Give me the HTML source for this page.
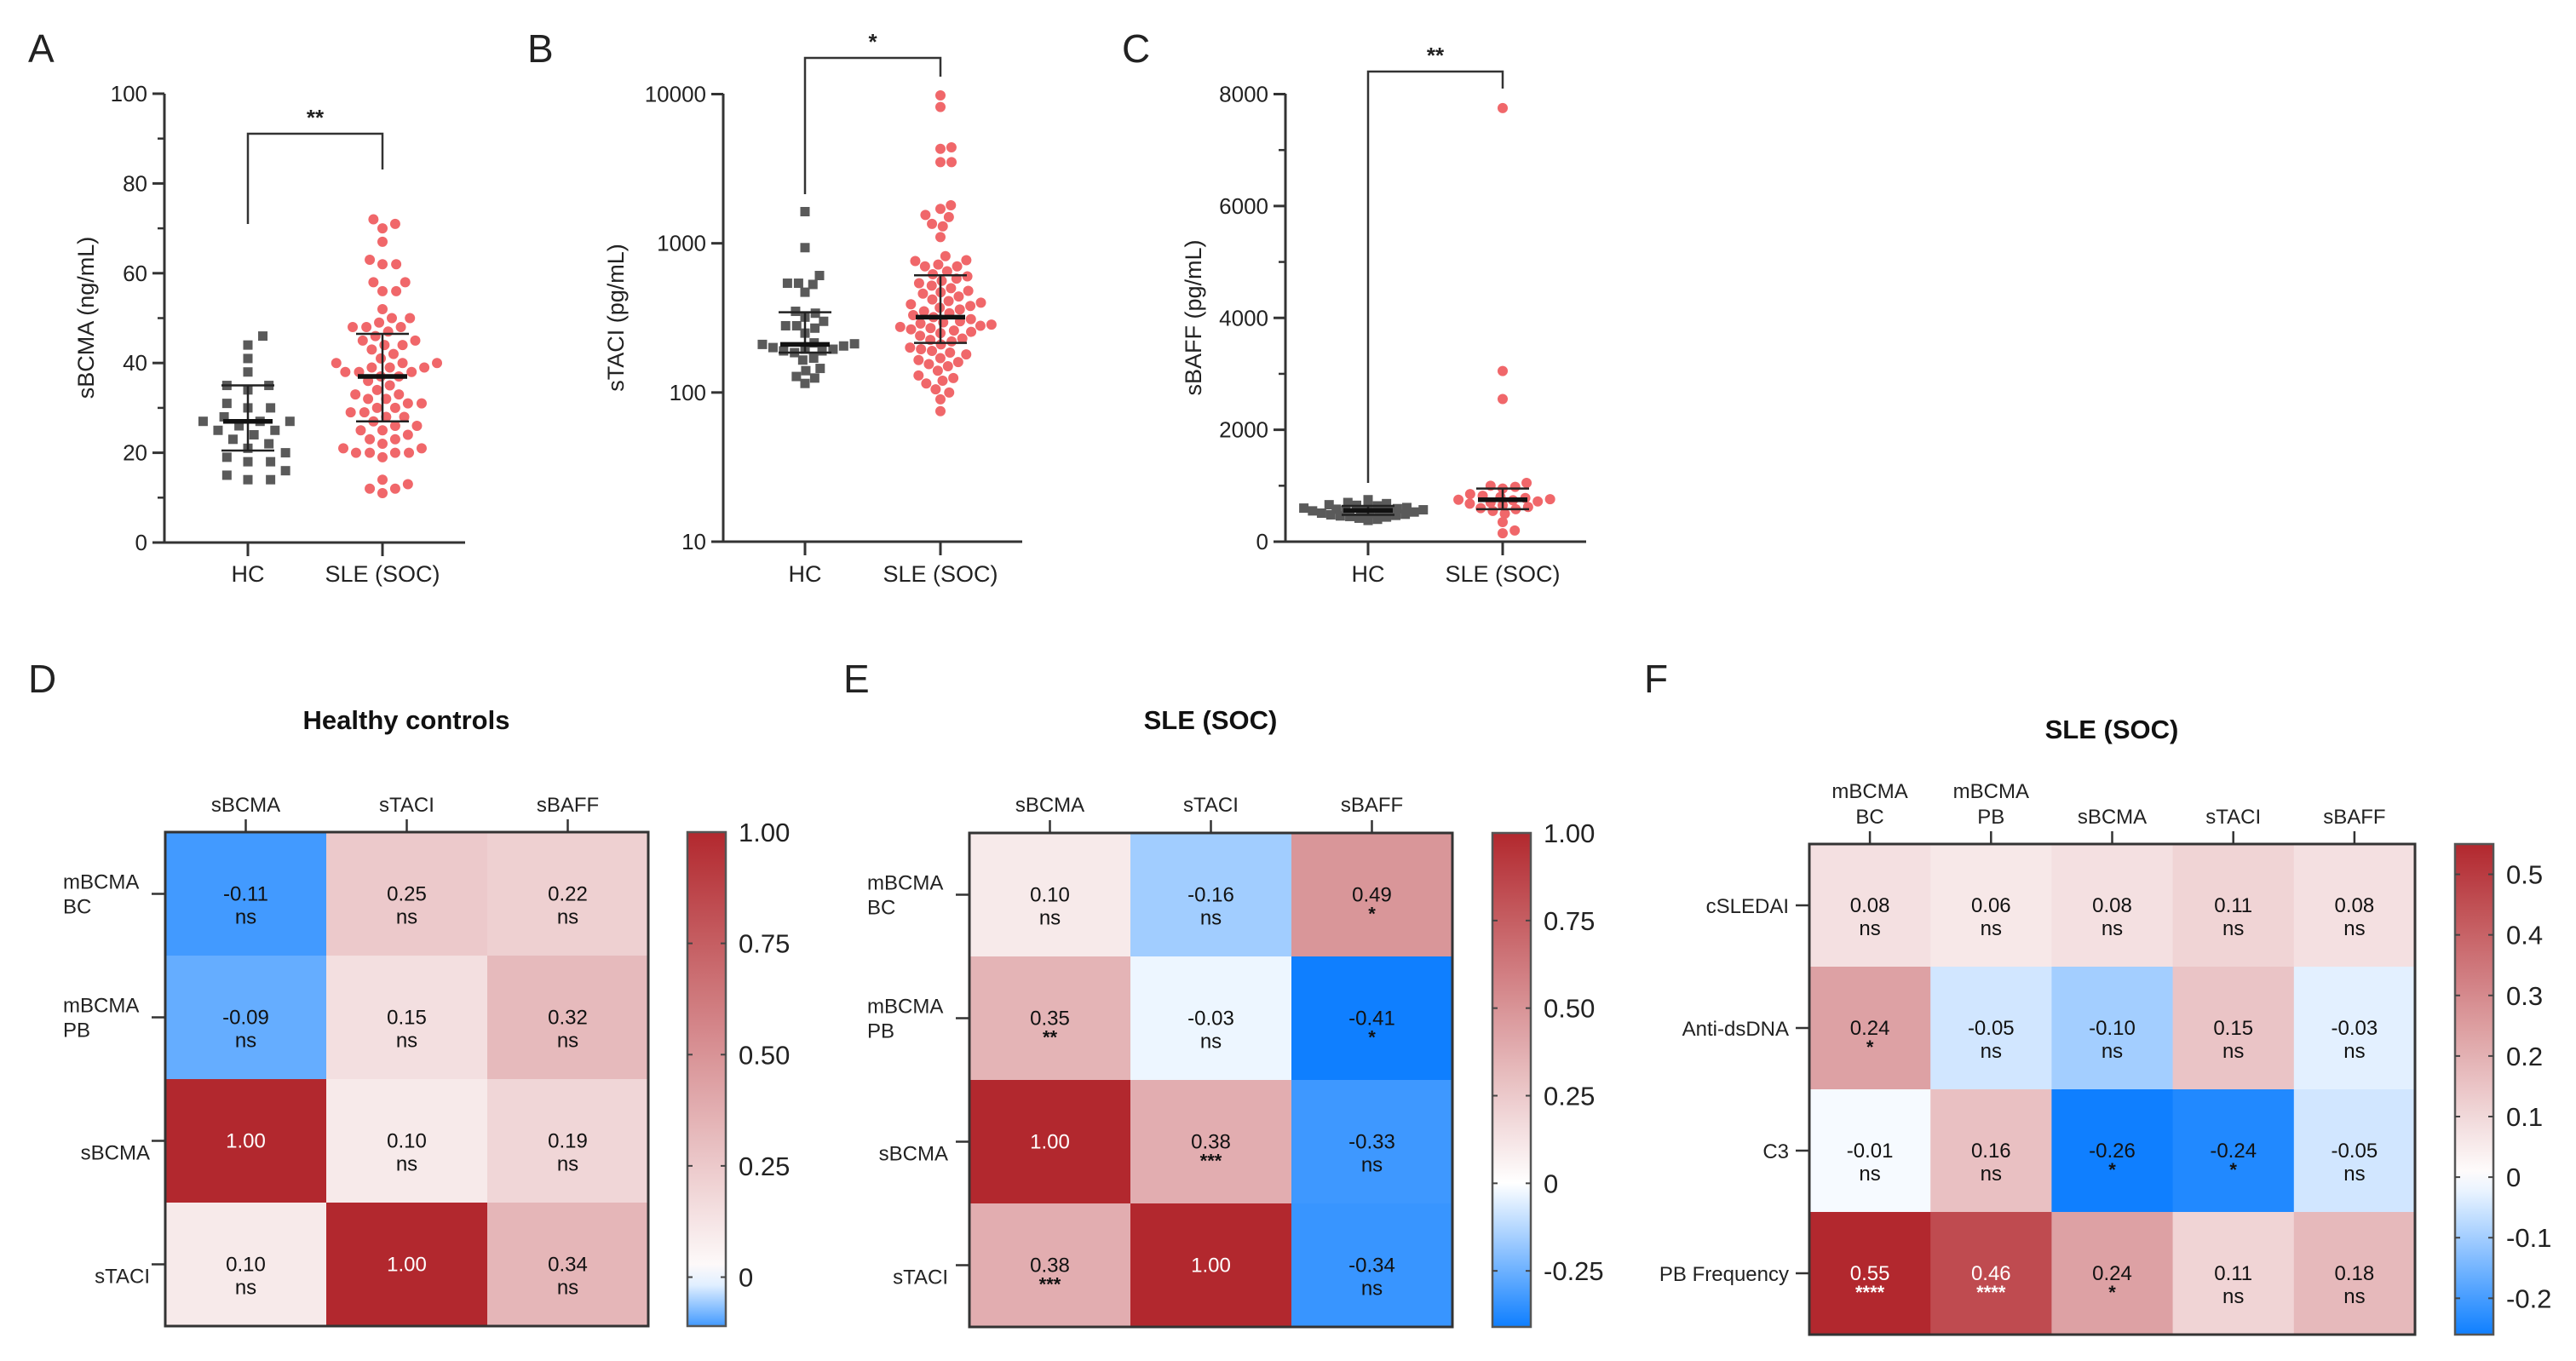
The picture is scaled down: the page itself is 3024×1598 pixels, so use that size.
<!DOCTYPE html>
<html><head><meta charset="utf-8"><title>Soluble BCMA, TACI and BAFF levels and correlations in healthy controls and SLE (SOC)</title>
<style>
html,body{margin:0;padding:0;background:#fff;}
svg{display:block;font-family:"Liberation Sans",Arial,sans-serif;}
</style></head>
<body>
<svg id="fig" width="3024" height="1598" viewBox="0 0 3024 1598" xmlns="http://www.w3.org/2000/svg">
<rect x="0" y="0" width="3024" height="1598" fill="#fff"/>
<defs id="defs"></defs>
</svg>
<script>
// ---------- Scatter data ----------
const aHC=[46,44,41,38,35,35,34,31,30,30,28,27,27,27,26,25,25,24,23,22,21,20,19,18,18,16,15,14,14];
const aSLE=[72,71,70,67,63,62,62,58,58,56,56,52,50,50,49,48,48,48,47,46,45,45,44,44,43,42,41,40,40,40,39,39,39,38,38,38,37,37,36,35,34,33,33,32,32,31,31,30,30,29,29,28,28,27,26,26,25,25,24,23,23,22,21,21,20,20,20,20,19,14,13,12,12,11];
const aStats=[[27,20.5,35],[37,27,46.5]];
const aTicks=[0,20,40,60,80,100];
const bHC=[1630,935,608,540,540,530,470,350,340,320,300,280,280,270,250,215,212,210,205,200,195,195,190,190,185,170,165,145,140,128,125,115];
const bSLE=[9800,8200,4400,4300,3500,3500,1800,1700,1550,1500,1350,1300,1100,820,770,760,720,700,700,650,620,600,580,560,540,520,500,480,470,460,440,420,410,400,390,380,370,360,350,340,330,320,310,300,295,290,285,280,275,270,265,260,255,250,240,230,225,220,210,200,195,190,185,180,170,165,160,155,150,140,130,125,120,115,105,100,90,75];
const bStats=[[210,185,345],[320,215,610]];
const bTicks=[10,100,1000,10000];
const cHC=[750,700,680,660,650,640,620,610,600,590,580,570,560,560,550,540,530,520,510,500,490,480,470,460,450,440,420,400,380];
const cSLE=[7750,3050,2550,1050,1000,980,950,850,820,800,780,760,750,740,720,700,680,650,620,600,580,550,500,350,200,150];
const cStats=[[560,480,640],[750,580,950]];
const cTicks=[0,2000,4000,6000,8000];
const groups=["HC","SLE (SOC)"];

// ---------- Heatmap data ----------
const dRows=[["mBCMA","BC"],["mBCMA","PB"],["sBCMA"],["sTACI"]];
const dCols=[["sBCMA"],["sTACI"],["sBAFF"]];
const dVals=[[-0.11,0.25,0.22],[-0.09,0.15,0.32],[1.00,0.10,0.19],[0.10,1.00,0.34]];
const dSig=[["ns","ns","ns"],["ns","ns","ns"],["","ns","ns"],["ns","","ns"]];
const dCbTicks=[1,0.75,0.5,0.25,0];
const dCbLabels=["1.00","0.75","0.50","0.25","0"];
const eRows=[["mBCMA","BC"],["mBCMA","PB"],["sBCMA"],["sTACI"]];
const eCols=[["sBCMA"],["sTACI"],["sBAFF"]];
const eVals=[[0.10,-0.16,0.49],[0.35,-0.03,-0.41],[1.00,0.38,-0.33],[0.38,1.00,-0.34]];
const eSig=[["ns","ns","*"],["**","ns","*"],["","***","ns"],["***","","ns"]];
const eCbTicks=[1,0.75,0.5,0.25,0,-0.25];
const eCbLabels=["1.00","0.75","0.50","0.25","0","-0.25"];
const fRows=[["cSLEDAI"],["Anti-dsDNA"],["C3"],["PB Frequency"]];
const fCols=[["mBCMA","BC"],["mBCMA","PB"],["sBCMA"],["sTACI"],["sBAFF"]];
const fVals=[[0.08,0.06,0.08,0.11,0.08],[0.24,-0.05,-0.10,0.15,-0.03],[-0.01,0.16,-0.26,-0.24,-0.05],[0.55,0.46,0.24,0.11,0.18]];
const fSig=[["ns","ns","ns","ns","ns"],["*","ns","ns","ns","ns"],["ns","ns","*","*","ns"],["****","****","*","ns","ns"]];
const fCbTicks=[0.5,0.4,0.3,0.2,0.1,0,-0.1,-0.2];
const fCbLabels=["0.5","0.4","0.3","0.2","0.1","0","-0.1","-0.2"];

const NS="http://www.w3.org/2000/svg";
const svg=document.getElementById('fig');
function mk(tag,attrs,parent,text){const e=document.createElementNS(NS,tag);for(const k in attrs)e.setAttribute(k,attrs[k]);if(text!==undefined)e.textContent=text;(parent||svg).appendChild(e);return e;}
function line(g,x1,y1,x2,y2,w,c){return mk('line',{x1,y1,x2,y2,stroke:c||'#333','stroke-width':w||3},g);}

function swarm(ys,d){
  const order=ys.map((y,i)=>i).sort((a,b)=>ys[b]-ys[a]);
  const placed=[];const xs=new Array(ys.length);
  order.forEach(i=>{
    const y=ys[i];const cands=[0];
    placed.forEach(p=>{const dy=Math.abs(p.y-y);if(dy<d){const dx=Math.sqrt(d*d-dy*dy);cands.push(p.x+dx+0.01,p.x-dx-0.01);}});
    cands.sort((a,b)=>Math.abs(a)-Math.abs(b));
    let best=0;
    for(const c of cands){let ok=true;for(const p of placed){if((p.x-c)*(p.x-c)+(p.y-y)*(p.y-y)<d*d-0.5){ok=false;break;}}if(ok){best=c;break;}}
    placed.push({x:best,y});xs[i]=best;
  });
  return xs;
}

function scatterPanel(o){
  const g=mk('g',{},svg);
  
  
  const lt=mk('text',{x:o.letterX,y:73,'font-size':46,fill:'#222'},g,o.letter);
  
  
  const ys=o.scale;
  const ax=line(g,o.ax,110,o.ax,o.y0+1.5,3);
  
  
  const xa=line(g,o.ax-14,o.y0,o.xEnd,o.y0,3);
  
  
  o.ticks.forEach((t,i)=>{
    const y=ys(t);
    line(g,o.ax-14,y,o.ax,y,3);
    const tl=mk('text',{x:o.ax-20,y:y+9,'font-size':26,'text-anchor':'end',fill:'#222'},g,String(t));
    
    
  });
  (o.minor||[]).forEach(t=>{const y=ys(t);line(g,o.ax-8,y,o.ax,y,2.5);});
  const yt=mk('text',{x:0,y:0,'font-size':27,'text-anchor':'middle',fill:'#222',transform:`translate(${o.titleX},373) rotate(-90)`},g,o.ytitle);
  
  
  const cxs=[o.cx0,o.cx1];
  const datas=[o.hc,o.sle];
  datas.forEach((vals,gi)=>{
    const cx=cxs[gi];
    line(g,cx,o.y0,cx,o.y0+16,3);
    const xl=mk('text',{x:cx,y:683,'font-size':27,'text-anchor':'middle',fill:'#222'},g,groups[gi]);
    
    
    const yv=vals.map(v=>ys(v));
    const offs=swarm(yv,o.d[gi]);
    const sx=o.sx[gi];
    vals.forEach((v,i)=>{
      let el;
      if(gi===0){el=mk('rect',{x:cx+offs[i]*sx-5.5,y:yv[i]-5.5,width:11,height:11,fill:'#5a5a5a'},g);}
      else{el=mk('circle',{cx:cx+offs[i]*sx,cy:yv[i],r:6,fill:'#f0676a'},g);}
      
      
    });
    const st=o.stats[gi];
    const eg=mk('g',{},g);
    
    
    line(eg,cx,ys(st[1]),cx,ys(st[2]),2.5,'#222');
    line(eg,cx-31,ys(st[1]),cx+31,ys(st[1]),2.5,'#222');
    line(eg,cx-31,ys(st[2]),cx+31,ys(st[2]),2.5,'#222');
    line(eg,cx-29,ys(st[0]),cx+29,ys(st[0]),5.5,'#111');
  });
  const br=mk('path',{d:`M${o.cx0},${o.bL} V${o.bY} H${o.cx1} V${o.bR}`,fill:'none',stroke:'#333','stroke-width':2.5},g);
  
  
  const sg=mk('text',{x:(o.cx0+o.cx1)/2,y:o.bY-10,'font-size':26,'font-weight':'bold','text-anchor':'middle',fill:'#222'},g,o.sig);
  
  
}

scatterPanel({name:'panel-a-sbcma',letter:'A',letterX:33,ax:193,y0:637,xEnd:546,cx0:291,cx1:449,
  scale:v=>637-(v/100)*(637-110),ticks:aTicks,minor:[10,30,50,70,90],ytitle:'sBCMA (ng/mL)',titleX:110,
  hc:aHC,sle:aSLE,stats:aStats,d:[14,14],sx:[1.9,1.15],bL:263,bY:157,bR:199,sig:'**'});
scatterPanel({name:'panel-b-staci',letter:'B',letterX:619,ax:849,y0:636,xEnd:1200,cx0:945,cx1:1104,
  scale:v=>636-(Math.log10(v)-1)/3*(636-110.5),ticks:bTicks,ytitle:'sTACI (pg/mL)',titleX:732,
  hc:bHC,sle:bSLE,stats:bStats,d:[13,13],sx:[1.0,1.0],bL:228,bY:68,bR:90,sig:'*'});
scatterPanel({name:'panel-c-sbaff',letter:'C',letterX:1317,ax:1509,y0:636,xEnd:1862,cx0:1606,cx1:1764,
  scale:v=>636-(v/8000)*(636-110.5),ticks:cTicks,minor:[1000,3000,5000,7000],ytitle:'sBAFF (pg/mL)',titleX:1410,
  hc:cHC,sle:cSLE,stats:cStats,d:[8,10],sx:[1.4,1.5],bL:567,bY:84,bR:104,sig:'**'});

// ---------- Heatmaps ----------
const RED=[178,40,46],BLUE=[15,127,255];
function colorOf(v,neg,pos){
  let t,c;
  if(v>=0){t=Math.min(v/pos,1);c=RED;}else{t=Math.min(-v/neg,1);c=BLUE;}
  const r=Math.round(255+(c[0]-255)*t),g=Math.round(255+(c[1]-255)*t),b=Math.round(255+(c[2]-255)*t);
  return `rgb(${r},${g},${b})`;
}
let gradId=0;
function heatPanel(o){
  const g=mk('g',{},svg);
  
  
  const lt=mk('text',{x:o.letterX,y:813,'font-size':46,fill:'#222'},g,o.letter);
  
  
  const tt=mk('text',{x:o.titleX,y:o.titleY,'font-size':31,'font-weight':'bold','text-anchor':'middle',fill:'#111'},g,o.title);
  
  
  const nr=o.rows.length,nc=o.cols.length;
  const cw=(o.x1-o.x0)/nc,rh=(o.y1-o.y0)/nr;
  o.vals.forEach((row,ri)=>row.forEach((v,ci)=>{
    const x=o.x0+ci*cw,y=o.y0+ri*rh;
    const cell=mk('rect',{x,y,width:cw+0.5,height:rh+0.5,fill:colorOf(v,o.neg,o.pos)},g);
    
    
    const light=(v/o.pos)>0.78;
    const tc=light?'#fff':'#111';
    const cx=x+cw/2,cy=y+rh/2;
    const vt=mk('text',{x:cx,y:cy+8,'font-size':24,'text-anchor':'middle',fill:tc},g,v.toFixed(2));
    
    
    const s=o.sig[ri][ci];
    if(s){
      const isNs=s==='ns';
      const st=mk('text',{x:cx,y:isNs?cy+35:cy+30,'font-size':isNs?24:22,'font-weight':isNs?'normal':'bold','text-anchor':'middle',fill:tc},g,s);
      
      
    }
  }));
  const fr=mk('rect',{x:o.x0,y:o.y0,width:o.x1-o.x0,height:o.y1-o.y0,fill:'none',stroke:'#333','stroke-width':3},g);
  
  
  o.cols.forEach((c,ci)=>{
    const cx=o.x0+ci*cw+cw/2;
    line(g,cx,o.y0-15,cx,o.y0,2.5);
    const t=mk('text',{x:cx,y:o.colY,'font-size':24,'text-anchor':'middle',fill:'#222'},g);
    
    
    if(c.length===2){mk('tspan',{x:cx,dy:-30},t,c[0]);mk('tspan',{x:cx,dy:30},t,c[1]);}else t.textContent=c[0];
  });
  o.rows.forEach((r,ri)=>{
    const cy=o.y0+ri*rh+rh/2;
    line(g,o.x0-16,cy,o.x0,cy,2.5);
    let t;
    if(r.length===2){
      t=mk('text',{x:o.rowL,y:cy-6,'font-size':24,fill:'#222'},g);
      mk('tspan',{x:o.rowL,dy:0},t,r[0]);mk('tspan',{x:o.rowL,dy:29},t,r[1]);
    } else {
      t=mk('text',{x:o.rowR,y:cy+(o.rowDy||22),'font-size':24,'text-anchor':'end',fill:'#222'},g,r[0]);
    }
    
    
  });
  const id='grad'+(gradId++);
  const gr=mk('linearGradient',{id,x1:0,y1:0,x2:0,y2:1},document.getElementById('defs'));
  const N=24;
  for(let k=0;k<=N;k++){const v=o.cbMax+(o.cbMin-o.cbMax)*k/N;mk('stop',{offset:(k/N*100)+'%','stop-color':colorOf(v,o.neg,o.pos)},gr);}
  const cb=mk('rect',{x:o.cbX,y:o.y0,width:45,height:o.y1-o.y0,fill:`url(#${id})`,stroke:'#555','stroke-width':2.5},g);
  
  
  const cbs=v=>o.y0+(o.cbMax-v)/(o.cbMax-o.cbMin)*(o.y1-o.y0);
  o.cbTicks.forEach((t,i)=>{
    const y=cbs(t);
    if(i>0||t<o.cbMax-0.01){line(g,o.cbX,y,o.cbX+6,y,2,'#444');line(g,o.cbX+39,y,o.cbX+45,y,2,'#444');}
    const lb=mk('text',{x:o.cbX+60,y:y+11,'font-size':31,fill:'#222'},g,o.cbLabels[i]);
    
    
  });
}

heatPanel({name:'panel-d-healthy-controls-heatmap',letter:'D',letterX:33,title:'Healthy controls',titleX:477,titleY:856,
  x0:194,x1:761,y0:977,y1:1557,rows:dRows,cols:dCols,vals:dVals,sig:dSig,colY:953,rowL:74,rowR:176,
  neg:0.14,pos:1,cbX:807,cbMax:1,cbMin:-0.11,cbTicks:dCbTicks,cbLabels:dCbLabels});
heatPanel({name:'panel-e-sle-heatmap',letter:'E',letterX:990,title:'SLE (SOC)',titleX:1421,titleY:856,
  x0:1138,x1:1705,y0:978,y1:1558,rows:eRows,cols:eCols,vals:eVals,sig:eSig,colY:953,rowL:1018,rowR:1113,
  neg:0.41,pos:1,cbX:1752,cbMax:1,cbMin:-0.41,cbTicks:eCbTicks,cbLabels:eCbLabels});
heatPanel({name:'panel-f-sle-clinical-heatmap',letter:'F',letterX:1930,title:'SLE (SOC)',titleX:2479,titleY:867,
  x0:2124,x1:2835,y0:991,y1:1567,rows:fRows,cols:fCols,vals:fVals,sig:fSig,colY:967,rowL:2000,rowR:2100,rowDy:9,
  neg:0.26,pos:0.55,cbX:2882,cbMax:0.55,cbMin:-0.26,cbTicks:fCbTicks,cbLabels:fCbLabels});
</script>
</body></html>
